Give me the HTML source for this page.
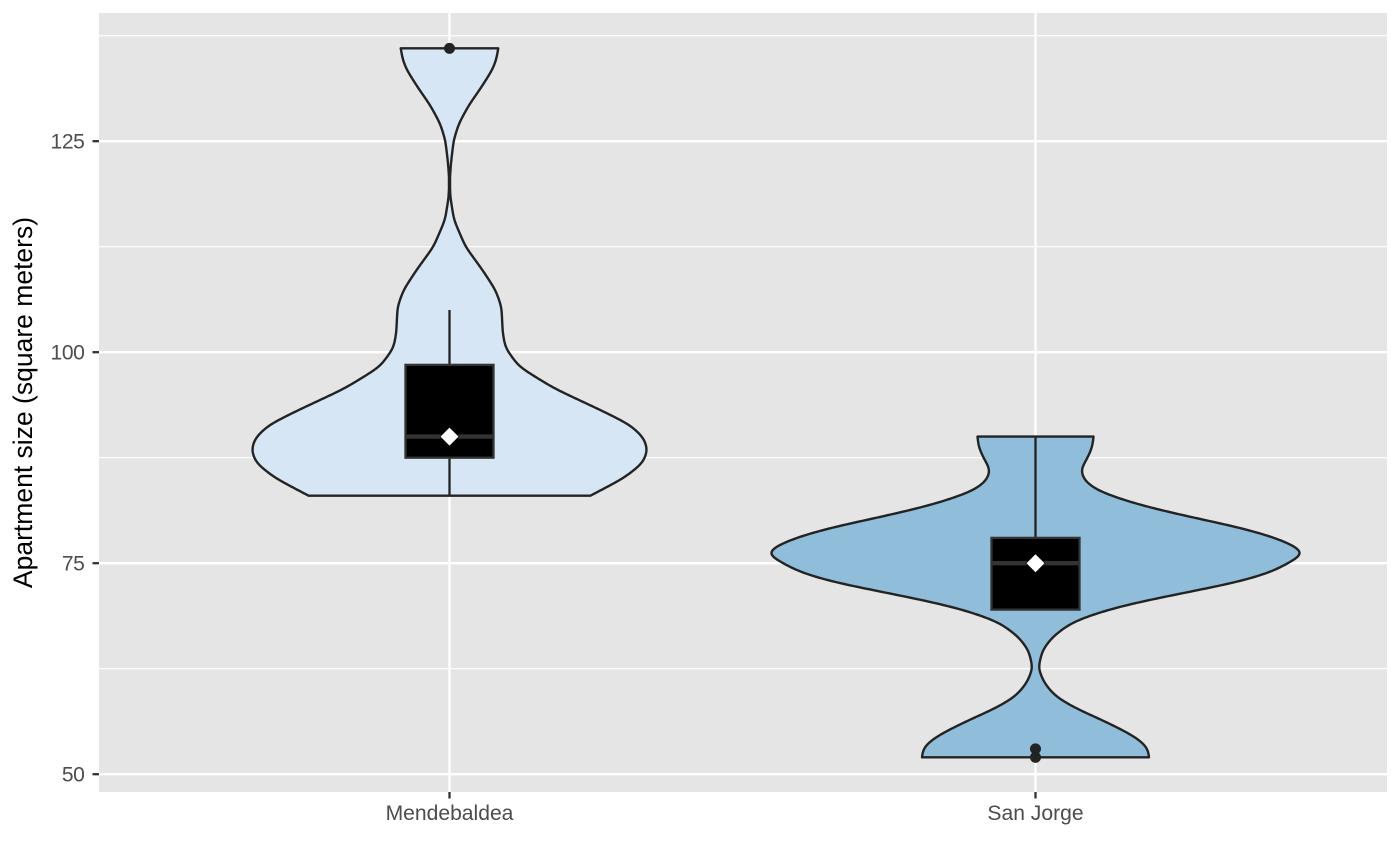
<!DOCTYPE html>
<html lang="en">
<head>
<meta charset="utf-8">
<title>Apartment size violin plot</title>
<style>
html,body{margin:0;padding:0;background:#fff;}
svg{display:block;}
text{font-family:"Liberation Sans",Arial,sans-serif;}
</style>
</head>
<body>
<svg id="chart" xmlns="http://www.w3.org/2000/svg" width="1400" height="865" viewBox="0 0 1400 865"></svg>
<script>
const categories = ["Mendebaldea", "San Jorge"];
const yTicks = [50, 75, 100, 125];
const yMinorTicks = [62.5, 87.5, 112.5, 137.5];
const yTitle = "Apartment size (square meters)";

const mendeValues = [136,134.64,133.45,131.28,129.3,127.13,125.15,122.4,120.4,118.4,115.67,112.5,109.74,107.37,105.39,102.28,100.5,98.28,95.72,92.95,91.37,89.83,88.41,86.87,85.09,83];
const mendeDensity = [18.5,17.76,16.24,11.84,7.4,3.6,1.6,0.55,0.1,0.3,1.71,6.07,12.52,17.46,19.73,20.2,21.25,26.38,39.66,58.63,68.69,73.8,75.2,73.4,66.22,53.5];
const sanValues = [52,52.45,53.44,54.62,56.2,57.79,59.16,60.75,62.56,64.7,66.28,68.05,69.44,70.42,71.61,72.8,73.98,75.17,76.2,77.35,78.13,79.24,80.5,81.89,83.46,84.65,86.04,87.46,88.8,90];
const sanDensity = [43.07,43.19,41.94,36.81,26.76,15.37,7.78,3.42,1.0,2.66,6.45,14.04,26.76,39.47,58.44,77.42,89.94,96.8,102.6,96.4,89.94,77.42,58.44,39.47,24.29,18.8,17.0,19.73,21.63,22.01];

const boxQ1 = [87.5, 69.5];
const boxMedian = [90, 75];
const boxQ3 = [98.5, 78];
const whiskerLow = [83, 69.5];
const whiskerHigh = [105, 90];
const means = [90, 75];
const mendeOutliers = [136];
const sanOutliers = [52, 53];
const fills = ["#D6E6F4", "#8FBDDA"];

const PANEL = {left: 99, right: 1387, top: 13, bottom: 792};
const NS = "http://www.w3.org/2000/svg";
const svg = document.getElementById("chart");

function yScale(v) { return 774.2 - (v - 50) * 8.44; }
function xScale(i) { return 449.5 + i * 586; }
function wScale(d) { return d * 2.635; }

function make(tag, attrs, parent) {
  const e = document.createElementNS(NS, tag);
  for (const k in attrs) e.setAttribute(k, attrs[k]);
  (parent || svg).appendChild(e);
  return e;
}

// Linear lookup of density at value v, with odd reflection past the ends
function lookup(vals, dens, v) {
  const asc = vals[vals.length - 1] > vals[0];
  const a = asc ? vals : vals.slice().reverse();
  const b = asc ? dens : dens.slice().reverse();
  const lo = a[0], hi = a[a.length - 1];
  if (v < lo) return 2 * b[0] - lookup(a, b, 2 * lo - v);
  if (v > hi) return 2 * b[b.length - 1] - lookup(a, b, 2 * hi - v);
  for (let i = 0; i < a.length - 1; i++) {
    if (v <= a[i + 1]) {
      return b[i] + (b[i + 1] - b[i]) * (v - a[i]) / (a[i + 1] - a[i]);
    }
  }
  return b[b.length - 1];
}

// Gaussian-smoothed outline for drawing: returns [value, density] pairs
function outline(vals, dens) {
  const sigma = 0.55, step = 0.1, out = [];
  const start = Math.max.apply(null, vals), end = Math.min.apply(null, vals);
  const n = Math.round((start - end) / step);
  for (let i = 0; i <= n; i++) {
    const v = start - (start - end) * i / n;
    let sum = 0, wt = 0;
    for (let o = -3 * sigma; o <= 3 * sigma + 1e-6; o += 0.06) {
      const w = Math.exp(-o * o / (2 * sigma * sigma));
      sum += w * lookup(vals, dens, v + o);
      wt += w;
    }
    out.push([v, Math.max(sum / wt, 0.2)]);
  }
  return out;
}

const panel = make("rect", {x: PANEL.left, y: PANEL.top, width: PANEL.right - PANEL.left, height: PANEL.bottom - PANEL.top, fill: "#E5E5E5"});



yMinorTicks.forEach(function (v) {
  const g = make("line", {x1: PANEL.left, x2: PANEL.right, y1: yScale(v), y2: yScale(v), stroke: "#fff", "stroke-width": 1.15});
  
  
});
yTicks.forEach(function (v) {
  const g = make("line", {x1: PANEL.left, x2: PANEL.right, y1: yScale(v), y2: yScale(v), stroke: "#fff", "stroke-width": 2.3});
  
  
  const t = make("line", {x1: PANEL.left - 6.5, x2: PANEL.left, y1: yScale(v), y2: yScale(v), stroke: "#333", "stroke-width": 2.3});
  
  
  const l = make("text", {x: PANEL.left - 14.5, y: yScale(v) + 7.4, "text-anchor": "end", "font-size": 21.1, "letter-spacing": "-0.4", fill: "#4D4D4D"});
  l.textContent = String(v);
  
  
});
categories.forEach(function (c, i) {
  const g = make("line", {x1: xScale(i), x2: xScale(i), y1: PANEL.top, y2: PANEL.bottom, stroke: "#fff", "stroke-width": 2.3});
  
  
  const t = make("line", {x1: xScale(i), x2: xScale(i), y1: PANEL.bottom, y2: PANEL.bottom + 6.5, stroke: "#333", "stroke-width": 2.3});
  
  
  const l = make("text", {x: xScale(i), y: 820, "text-anchor": "middle", "font-size": 21.1, fill: "#4D4D4D"});
  l.textContent = c;
  
  
});

const yTitleEl = make("text", {transform: "translate(32 402.5) rotate(-90)", "text-anchor": "middle", "font-size": 26.5, fill: "#000"});
yTitleEl.textContent = yTitle;



const violinValues = [mendeValues, sanValues];
const violinDensity = [mendeDensity, sanDensity];
const outliers = [mendeOutliers, sanOutliers];

categories.forEach(function (c, i) {
  const cx = xScale(i);
  const curve = outline(violinValues[i], violinDensity[i]);
  const right = curve.map(function (p) { return (cx + wScale(p[1])).toFixed(2) + " " + yScale(p[0]).toFixed(2); });
  const left = curve.map(function (p) { return (cx - wScale(p[1])).toFixed(2) + " " + yScale(p[0]).toFixed(2); }).reverse();
  const d = "M" + right.join("L") + "L" + left.join("L") + "Z";
  const violin = make("path", {d: d, fill: fills[i], stroke: "#232323", "stroke-width": 2.4, "stroke-linejoin": "round"});
  
  

  const wu = make("line", {x1: cx, x2: cx, y1: yScale(boxQ3[i]), y2: yScale(whiskerHigh[i]), stroke: "#232323", "stroke-width": 2.3});
  
  
  const wl = make("line", {x1: cx, x2: cx, y1: yScale(boxQ1[i]), y2: yScale(whiskerLow[i]), stroke: "#232323", "stroke-width": 2.3});
  
  

  const box = make("rect", {x: cx - 44, width: 88, y: yScale(boxQ3[i]), height: yScale(boxQ1[i]) - yScale(boxQ3[i]), fill: "#000", stroke: "#333", "stroke-width": 2.3});
  
  
  const med = make("line", {x1: cx - 44, x2: cx + 44, y1: yScale(boxMedian[i]), y2: yScale(boxMedian[i]), stroke: "#333", "stroke-width": 4.4});
  
  

  outliers[i].forEach(function (v) {
    const o = make("circle", {cx: cx, cy: yScale(v), r: 5.5, fill: "#232323"});
    
    
  });

  const my = yScale(means[i]);
  const mean = make("polygon", {points: [cx, my - 9.5, cx + 9.5, my, cx, my + 9.5, cx - 9.5, my].join(" "), fill: "#fff", stroke: "#000", "stroke-width": 0.7});
  
  
});
</script>
</body>
</html>
